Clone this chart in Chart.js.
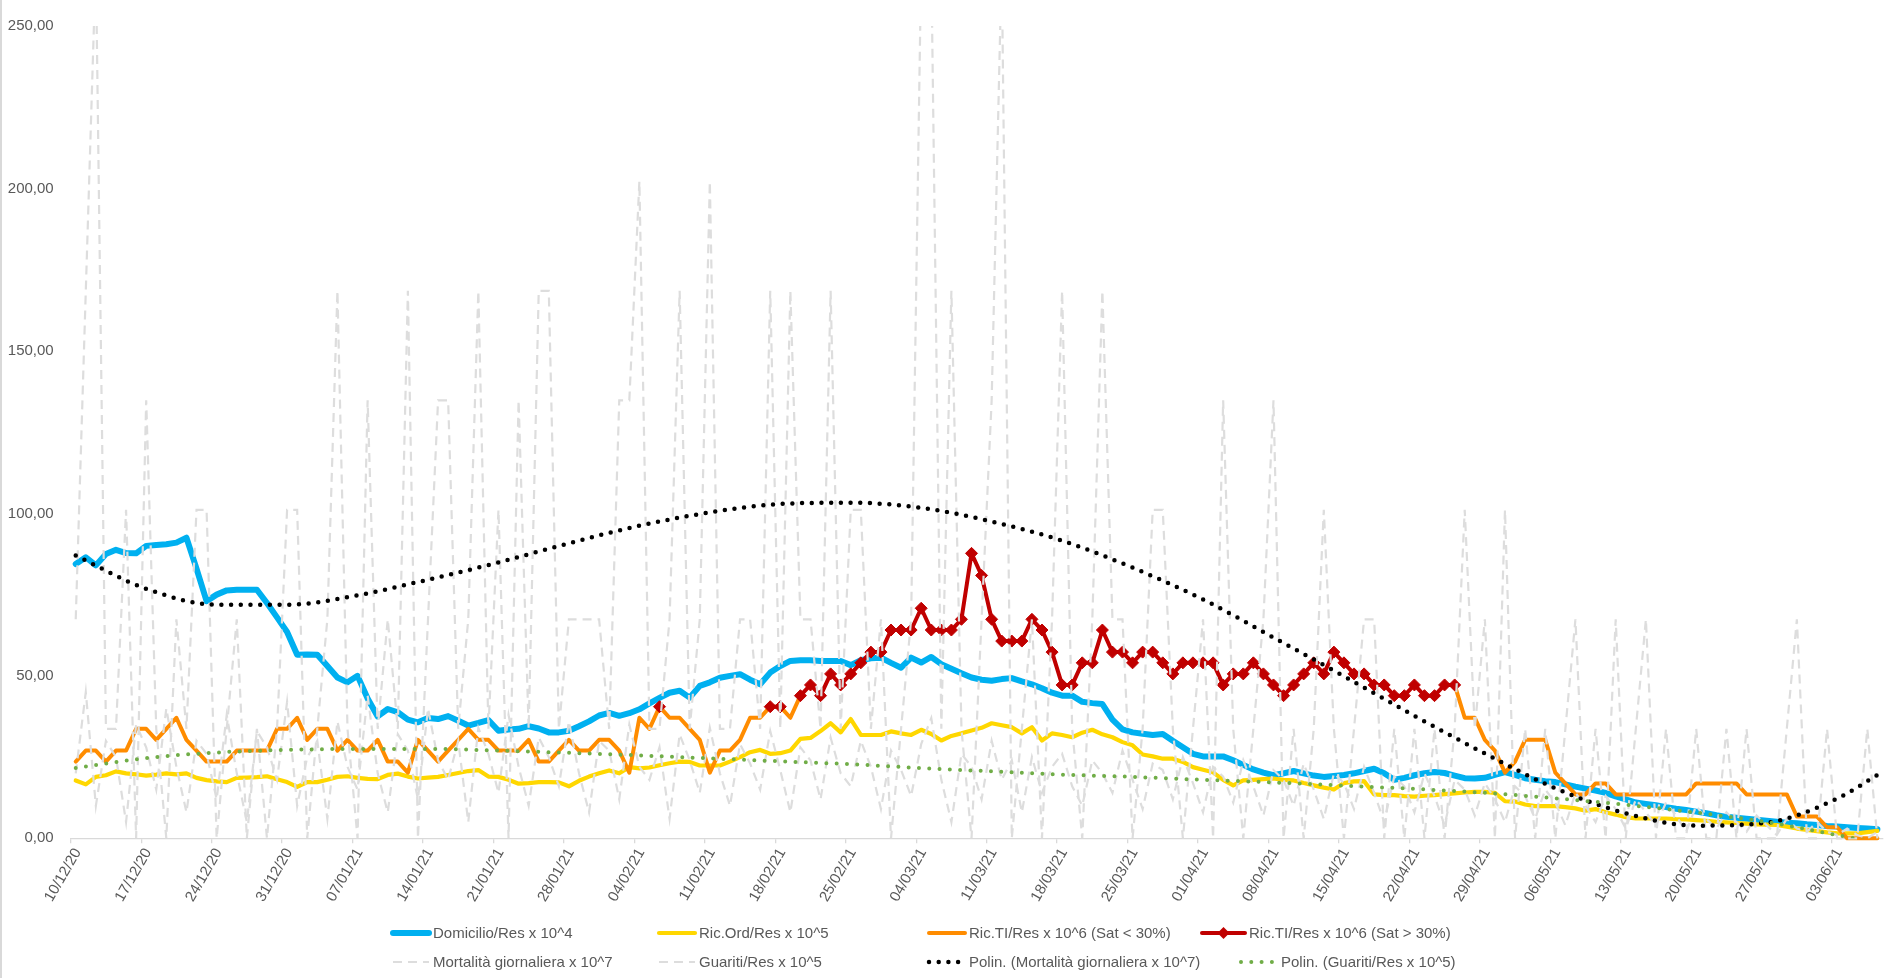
<!DOCTYPE html>
<html lang="it">
<head>
<meta charset="UTF-8">
<title>Andamento giornaliero</title>
<script src="https://cdn.jsdelivr.net/npm/chart.js"></script>
<style>
  html, body { margin: 0; padding: 0; background: #fff; }
  #wrap { width: 1895px; height: 978px; position: relative; }
</style>
</head>
<body>
<div id="wrap"><canvas id="trend" width="1895" height="978"></canvas></div>
<script>
const _ = null;

// one sample per day, starting 10/12/2020
const startDay = new Date(2020, 11, 10);
const nDays = 180;
const days = [];
for (let i = 0; i < nDays; i++) {
  const d = new Date(startDay.getFullYear(), startDay.getMonth(), startDay.getDate() + i);
  days.push(String(d.getDate()).padStart(2, '0') + '/' +
            String(d.getMonth() + 1).padStart(2, '0') + '/' +
            String(d.getFullYear()).slice(2));
}

const domicilio = [
  84.4,86.5,84,87.5,88.8,87.8,87.7,90,90.3,90.5,
  91,92.5,83,73,75,76.3,76.5,76.5,76.5,72.4,
  68,63.5,56.5,56.6,56.5,53,49.5,48,50,43,
  37.5,39.8,38.8,36.5,35.7,37,36.7,37.6,36.2,34.7,
  35.5,36.4,33.1,33.5,33.7,34.5,33.8,32.6,32.6,33.1,
  34.5,36,37.8,38.6,37.7,38.5,39.7,41.5,43.2,44.8,
  45.4,43.3,46.9,48,49.4,50,50.5,48.8,47.4,51,
  53,54.6,54.8,54.8,54.6,54.6,54.6,53.3,54.8,55.4,
  55.6,54,52.5,55.6,54.1,55.8,53.6,52.2,50.8,49.5,
  48.8,48.5,49,49.3,48.3,47.4,46.2,44.8,43.9,43.9,
  42,41.6,41.3,36.5,33.5,32.6,32.2,31.8,32.1,30,
  28,26,25.2,25.2,25.2,24,22.6,21.2,20.2,19.4,
  20,20.7,20,19.3,18.9,19.2,19.5,20,20.7,21.4,
  20,18,18.6,19.4,20,20.4,20.1,19.3,18.5,18.4,
  18.6,19.5,20.4,19.5,18.5,18,17.6,17.3,16.6,15.9,
  15.3,14.7,14,12.9,12,11,10.6,10.2,9.6,9.1,
  8.7,8.2,7.7,7.1,6.6,6.3,6,5.7,5.4,5.1,
  4.8,4.6,4.3,4.1,3.8,3.6,3.4,3.2,3,2.8
];

const ricOrd = [
  17.8,16.6,18.9,19.4,20.6,20,19.7,19.3,19.6,20,
  19.7,20,18.6,17.9,17.5,17.3,18.6,18.7,18.8,19.1,
  18.2,17.3,15.8,17.3,17.3,18,18.9,19.1,18.6,18.3,
  18.2,19.5,19.9,19,18.4,18.7,18.9,19.5,20.1,20.7,
  21,19,18.9,18,16.8,17,17.3,17.3,17.2,16,
  17.7,19,20,20.9,20,21.9,21.5,21.8,22.5,23.1,
  23.6,23.5,22.4,22.4,22.4,23.6,25,26.5,27.2,26,
  26.2,27,30.6,30.9,33,35.4,32.6,36.7,31.8,31.8,
  31.8,32.9,32.3,31.8,33.4,32.1,30.1,31.5,32.3,33.2,
  34,35.4,34.8,34.2,32.3,34.2,30.1,32.3,31.8,31.1,
  32.5,33.4,32,31.1,29.6,28.6,25.8,25.2,24.5,24.5,
  23.5,21.9,21.1,20.3,18,16.3,17.8,18,18.2,18.4,
  18,17.8,17,16.3,15.6,15,17,17.5,17.6,13.5,
  13.3,13.3,13,12.8,13.1,13.3,13.6,13.8,14.1,14.3,
  14.3,14,11.4,11.3,10.4,9.9,9.9,9.9,9.6,9.2,
  8.5,9,8,7.3,6.5,6.1,6.1,6.1,6.1,5.9,
  5.8,5.6,5.4,5.1,4.9,4.7,4.5,4.3,4.2,4.1,
  3.6,3,2.6,2.2,1.8,1.5,1.5,1.5,1.9,2.3
];

// ICU occupancy, split by regional saturation
const ricTiLow = [
  23.6,27,27,23.6,27,27,33.7,33.7,30.3,33.7,
  37.1,30.3,27,23.6,23.6,23.6,27,27,27,27,
  33.7,33.7,37.1,30.3,33.7,33.7,27,30.3,27,27,
  30.3,23.6,23.6,20.2,30.3,27,23.6,27,30.3,33.7,
  30.3,30.3,27,27,27,30.3,23.6,23.6,27,30.3,
  27,27,30.3,30.3,27,20.2,37.1,33.7,40.5,37.1,
  37.1,33.7,30.3,20.2,27,27,30.3,37.1,37.1,40.5,
  40.5,37.1,43.9,_,_,_,_,_,_,_,
  _,_,_,_,_,_,_,_,_,_,
  _,_,_,_,_,_,_,_,_,_,
  _,_,_,_,_,_,_,_,_,_,
  _,_,_,_,_,_,_,_,_,_,
  _,_,_,_,_,_,_,_,_,_,
  _,_,_,_,_,_,_,47.2,37.1,37.1,
  30.3,27,20.2,23.6,30.3,30.3,30.3,20.2,16.9,13.5,
  13.5,16.9,16.9,13.5,13.5,13.5,13.5,13.5,13.5,13.5,
  13.5,16.9,16.9,16.9,16.9,16.9,13.5,13.5,13.5,13.5,
  13.5,6.7,6.7,6.7,3.4,3.4,0,0,0,0
];

const ricTiHigh = [
  _,_,_,_,_,_,_,_,_,_,
  _,_,_,_,_,_,_,_,_,_,
  _,_,_,_,_,_,_,_,_,_,
  _,_,_,_,_,_,_,_,_,_,
  _,_,_,_,_,_,_,_,_,_,
  _,_,_,_,_,_,_,_,40.5,_,
  _,_,_,_,_,_,_,_,_,40.5,
  40.5,_,43.9,47.2,43.9,50.6,47.2,50.6,54,57.3,
  57.3,64.1,64.1,64.1,70.8,64.1,64.1,64.1,67.4,87.7,
  80.9,67.4,60.7,60.7,60.7,67.4,64.1,57.3,47.2,47.2,
  54,54,64.1,57.3,57.3,54,57.3,57.3,54,50.6,
  54,54,54,54,47.2,50.6,50.6,54,50.6,47.2,
  43.9,47.2,50.6,54,50.6,57.3,54,50.6,50.6,47.2,
  47.2,43.9,43.9,47.2,43.9,43.9,47.2,47.2,_,_,
  _,_,_,_,_,_,_,_,_,_,
  _,_,_,_,_,_,_,_,_,_,
  _,_,_,_,_,_,_,_,_,_,
  _,_,_,_,_,_,_,_,_,_
];

const mortalita = [
  67.4,168.5,269.6,33.7,33.7,101.1,0,134.8,33.7,0,
  67.4,33.7,101.1,101.1,0,33.7,67.4,0,33.7,0,
  33.7,101.1,101.1,0,33.7,67.4,168.5,33.7,0,134.8,
  33.7,67.4,33.7,168.5,0,67.4,134.8,134.8,33.7,67.4,
  168.5,33.7,101.1,0,134.8,33.7,168.5,168.5,33.7,67.4,
  67.4,67.4,67.4,33.7,134.8,134.8,202.2,33.7,33.7,67.4,
  168.5,33.7,67.4,202.2,33.7,33.7,67.4,67.4,33.7,168.5,
  33.7,168.5,67.4,67.4,33.7,168.5,33.7,101.1,101.1,33.7,
  67.4,0,33.7,67.4,269.6,269.6,33.7,168.5,33.7,0,
  67.4,134.8,269.6,0,33.7,67.4,0,67.4,168.5,33.7,
  0,67.4,168.5,67.4,67.4,0,33.7,101.1,101.1,33.7,
  0,33.7,67.4,0,134.8,33.7,0,33.7,67.4,134.8,
  0,33.7,0,33.7,101.1,33.7,0,33.7,67.4,67.4,
  0,33.7,0,33.7,0,33.7,0,33.7,101.1,33.7,
  67.4,0,101.1,0,33.7,0,33.7,0,33.7,67.4,
  0,33.7,0,67.4,0,33.7,67.4,0,33.7,0,
  0,33.7,0,0,33.7,0,33.7,0,0,0,
  33.7,67.4,0,0,33.7,0,0,0,33.7,0
];

const guariti = [
  20,45,10,30,25,5,35,28,15,40,
  22,8,30,26,12,38,20,5,33,28,
  18,42,10,25,30,6,36,22,15,44,
  20,8,32,27,12,40,24,18,30,5,
  34,26,14,38,22,10,31,25,16,36,
  20,8,30,27,12,35,22,18,28,6,
  32,24,14,34,20,10,29,23,15,33,
  21,8,28,24,12,31,20,16,30,22,
  9,27,21,13,29,37,18,5,26,22,
  12,30,18,24,8,25,14,22,26,16,
  10,24,20,14,27,18,9,23,21,12,
  25,17,8,22,19,11,24,16,7,21,
  18,10,23,15,6,20,17,9,22,14,
  5,19,16,8,20,13,4,18,15,7,
  17,12,5,16,13,6,15,11,4,14,
  10,5,13,9,3,12,8,4,11,7,
  2,10,6,3,8,5,2,7,4,1,
  6,3,2,5,2,1,3,1,0,2
];

// polynomial trend lines, read weekly
const trendDays = [0,7,14,21,28,35,42,49,56,63,70,77,84,91,98,105,112,119,126,133,140,147,154,161,168,175,179];
const trendMort = [87,76.8,71.9,71.9,74.8,79.6,84.9,90.8,96.2,100.3,102.9,103.3,101.7,97.5,91.6,83.3,73.5,61.8,49.9,37.7,26.1,15.4,7.7,3.9,4.8,12.2,19.5];
const trendGuar = [21.6,24.7,26.4,27.2,27.5,27.5,27,26.3,25.5,24.6,23.7,22.8,21.6,20.6,19.6,18.9,18,17.2,16.2,15.2,14,12.3,10.3,7.9,5,1,-1.3];

const yTicks = [0, 50, 100, 150, 200, 250];

const FONT = '"Liberation Sans Narrow", "Liberation Sans", Arial, sans-serif';
const TEXT = '#595959';
const AXIS = '#D9D9D9';

const toPoints = (vals) => trendDays.map((d, k) => ({ x: days[d], y: vals[k] }));
const lineClip = { left: 8, top: 8, right: 8, bottom: 8 };

// Excel-like legend, two rows under the axis labels
const legendSlots = [
  [0, 393, 933], [1, 659, 933], [2, 929, 933], [3, 1202, 933],
  [4, 393, 962], [5, 659, 962], [6, 929, 962], [7, 1241, 962]
];

const sheetLegend = {
  id: 'sheetLegend',
  afterDraw(chart) {
    const ctx = chart.ctx;
    ctx.save();
    ctx.fillStyle = AXIS;
    ctx.fillRect(0, 0, 2, chart.height);
    ctx.font = '15px ' + FONT;
    ctx.textBaseline = 'middle';
    legendSlots.forEach(([di, x, y]) => {
      const ds = chart.data.datasets[di];
      const w = ds.pointStyle === 'rectRot' ? 43 : 36;
      ctx.save();
      ctx.strokeStyle = ds.borderColor;
      ctx.lineWidth = ds.borderWidth;
      ctx.lineCap = ds.borderCapStyle || 'butt';
      ctx.setLineDash(ds.borderDash || []);
      ctx.beginPath();
      ctx.moveTo(x, y);
      ctx.lineTo(x + w, y);
      ctx.stroke();
      if (ds.pointStyle === 'rectRot') {
        const r = ds.pointRadius;
        const cx = x + w / 2;
        ctx.fillStyle = ds.pointBackgroundColor;
        ctx.beginPath();
        ctx.moveTo(cx, y - r);
        ctx.lineTo(cx + r, y);
        ctx.lineTo(cx, y + r);
        ctx.lineTo(cx - r, y);
        ctx.closePath();
        ctx.fill();
      }
      ctx.restore();
      ctx.fillStyle = TEXT;
      ctx.fillText(ds.label, x + w + 4, y + 1);
    });
    ctx.restore();
  }
};

new Chart(document.getElementById('trend'), {
  type: 'line',
  data: {
    labels: days,
    datasets: [
      {
        label: 'Domicilio/Res x 10^4', data: domicilio,
        borderColor: '#00B0F0', borderWidth: 6, pointRadius: 0,
        borderJoinStyle: 'round', borderCapStyle: 'round', order: 8, clip: lineClip
      },
      {
        label: 'Ric.Ord/Res x 10^5', data: ricOrd,
        borderColor: '#FFD700', borderWidth: 4.2, pointRadius: 0,
        borderJoinStyle: 'round', borderCapStyle: 'round', order: 7, clip: lineClip
      },
      {
        label: 'Ric.TI/Res x 10^6 (Sat < 30%)', data: ricTiLow,
        borderColor: '#FF8C00', borderWidth: 4, pointRadius: 0,
        borderJoinStyle: 'round', borderCapStyle: 'round', order: 6, clip: lineClip
      },
      {
        label: 'Ric.TI/Res x 10^6 (Sat > 30%)', data: ricTiHigh,
        borderColor: '#C00000', borderWidth: 4, spanGaps: 2,
        pointStyle: 'rectRot', pointRadius: 6, pointBorderWidth: 1,
        pointBackgroundColor: '#C00000', pointBorderColor: '#C00000',
        borderJoinStyle: 'round', borderCapStyle: 'round', order: 5, clip: lineClip
      },
      {
        label: 'Mortalità giornaliera x 10^7', data: mortalita,
        borderColor: '#DDDDDD', borderWidth: 2.2, borderDash: [9, 6], pointRadius: 0,
        order: 4, clip: { left: 8, top: 0, right: 8, bottom: 8 }
      },
      {
        label: 'Guariti/Res x 10^5', data: guariti,
        borderColor: '#DDDDDD', borderWidth: 2.2, borderDash: [9, 6], pointRadius: 0,
        order: 3, clip: { left: 8, top: 0, right: 8, bottom: 8 }
      },
      {
        label: 'Polin. (Mortalità giornaliera x 10^7)', data: toPoints(trendMort),
        borderColor: '#000000', borderWidth: 4.5, borderDash: [0, 9.7], borderCapStyle: 'round',
        cubicInterpolationMode: 'monotone', pointRadius: 0, order: 2, clip: lineClip
      },
      {
        label: 'Polin. (Guariti/Res x 10^5)', data: toPoints(trendGuar),
        borderColor: '#70AD47', borderWidth: 4, borderDash: [0, 10.3], borderCapStyle: 'round',
        cubicInterpolationMode: 'monotone', pointRadius: 0, order: 1, clip: 0
      }
    ]
  },
  options: {
    responsive: false,
    animation: false,
    events: [],
    layout: { padding: { top: 21.6, right: 7, left: 0, bottom: 0 } },
    plugins: { legend: { display: false }, tooltip: { enabled: false } },
    scales: {
      x: {
        offset: true,
        grid: {
          offset: true, drawOnChartArea: false, drawTicks: true, tickLength: 5, lineWidth: 1.3,
          color: (c) => (c.index % 7 === 0 ? AXIS : 'rgba(0,0,0,0)')
        },
        border: { display: true, color: AXIS, width: 1.3 },
        ticks: {
          autoSkip: false, minRotation: 60, maxRotation: 60, labelOffset: 2, padding: 2,
          color: TEXT, font: { family: FONT, size: 15 },
          callback: (v, i) => (i % 7 === 0 ? days[i] : '')
        },
        afterFit: (s) => { s.height = 139.7; }
      },
      y: {
        min: 0, max: 250,
        afterBuildTicks: (s) => { s.ticks = yTicks.map((v) => ({ value: v })); },
        grid: { display: false, drawTicks: false },
        border: { display: false },
        ticks: {
          padding: 17, color: TEXT, font: { family: FONT, size: 15 },
          callback: (v) => v.toFixed(2).replace('.', ',')
        },
        afterFit: (s) => { s.width = 70.7; }
      }
    }
  },
  plugins: [sheetLegend]
});
</script>
</body>
</html>
